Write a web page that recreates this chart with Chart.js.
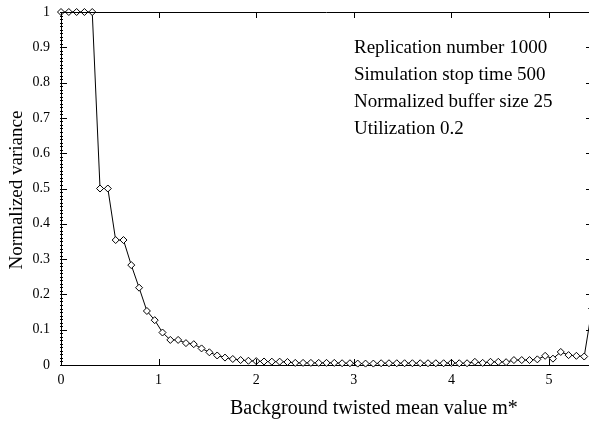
<!DOCTYPE html>
<html>
<head>
<meta charset="utf-8">
<script src="https://cdn.jsdelivr.net/npm/chart.js@4.4.1/dist/chart.umd.min.js"></script>
<style>
  html, body { margin: 0; padding: 0; overflow: hidden; background: #fff; }
  canvas { display: block; }
</style>
</head>
<body>
<canvas id="variance-chart" width="592" height="422"></canvas>
<script>
  // background twisted mean value m*
  const mValues = [
    0, 0.08, 0.16, 0.24, 0.32, 0.4, 0.48, 0.56, 0.64, 0.72,
    0.8, 0.88, 0.96, 1.04, 1.12, 1.2, 1.28, 1.36, 1.44, 1.52,
    1.6, 1.68, 1.76, 1.84, 1.92, 2.0, 2.08, 2.16, 2.24, 2.32,
    2.4, 2.48, 2.56, 2.64, 2.72, 2.8, 2.88, 2.96, 3.04, 3.12,
    3.2, 3.28, 3.36, 3.44, 3.52, 3.6, 3.68, 3.76, 3.84, 3.92,
    4.0, 4.08, 4.16, 4.24, 4.32, 4.4, 4.48, 4.56, 4.64, 4.72,
    4.8, 4.88, 4.96, 5.04, 5.12, 5.2, 5.28, 5.36, 5.44
  ];

  // normalized variance for each m*
  const variance = [
    1, 1, 1, 1, 1, 0.5, 0.5, 0.354, 0.354, 0.283,
    0.219, 0.153, 0.127, 0.092, 0.071, 0.071, 0.062, 0.059, 0.047, 0.036,
    0.027, 0.021, 0.017, 0.014, 0.012, 0.011, 0.010, 0.0095, 0.0095, 0.0085,
    0.006, 0.006, 0.006, 0.006, 0.006, 0.006, 0.005, 0.005, 0.004, 0.004,
    0.004, 0.005, 0.005, 0.005, 0.005, 0.005, 0.005, 0.005, 0.005, 0.005,
    0.006, 0.005, 0.005, 0.009, 0.006, 0.009, 0.009, 0.008, 0.014, 0.014,
    0.014, 0.016, 0.026, 0.018, 0.037, 0.028, 0.026, 0.024, 0.16
  ];

  const xTicks = [0, 1, 2, 3, 4, 5];
  const noteLines = [
    'Replication number 1000',
    'Simulation stop time 500',
    'Normalized buffer size 25',
    'Utilization 0.2'
  ];
  const xTitle = 'Background twisted mean value m*';
  const yTitle = 'Normalized variance';

  const serif = '"Liberation Serif", "Times New Roman", serif';

  // frame, inward tick marks, notes and axis titles
  const framePlugin = {
    id: 'frame',
    afterDraw(chart) {
      const ctx = chart.ctx;
      const area = chart.chartArea;
      const xs = chart.scales.x;
      const ys = chart.scales.y;
      ctx.save();
      ctx.strokeStyle = '#000';
      ctx.lineWidth = 1;
      ctx.beginPath();
      ctx.moveTo(area.left, area.top + 0.5);
      ctx.lineTo(area.right, area.top + 0.5);
      ctx.moveTo(area.right - 0.5, area.top);
      ctx.lineTo(area.right - 0.5, area.bottom);
      ys.ticks.forEach(t => {
        const py = Math.round(ys.getPixelForValue(t.value)) + 0.5;
        ctx.moveTo(area.left, py);
        ctx.lineTo(area.left + 6, py);
        ctx.moveTo(area.right, py);
        ctx.lineTo(area.right - 6, py);
      });
      xs.ticks.forEach(t => {
        const px = Math.round(xs.getPixelForValue(t.value)) + 0.5;
        ctx.moveTo(px, area.bottom);
        ctx.lineTo(px, area.bottom - 6);
        ctx.moveTo(px, area.top);
        ctx.lineTo(px, area.top + 6);
      });
      // minor ticks along the left axis
      for (let i = 0; i <= 100; i++) {
        const py = Math.round(ys.getPixelForValue(i / 100)) + 0.5;
        ctx.moveTo(area.left - 1, py);
        ctx.lineTo(area.left + 2, py);
      }
      ctx.stroke();

      ctx.fillStyle = '#000';
      ctx.textAlign = 'left';
      ctx.textBaseline = 'alphabetic';
      ctx.font = '19px ' + serif;
      noteLines.forEach((line, i) => ctx.fillText(line, 354, 53 + i * 27));

      ctx.font = '20px ' + serif;
      ctx.fillText(xTitle, 230, 414);

      ctx.translate(17, 190);
      ctx.rotate(-Math.PI / 2);
      ctx.textAlign = 'center';
      ctx.textBaseline = 'middle';
      ctx.font = '19px ' + serif;
      ctx.fillText(yTitle, 0, 0);
      ctx.restore();
    }
  };

  const ctx = document.getElementById('variance-chart').getContext('2d');
  new Chart(ctx, {
    type: 'scatter',
    data: {
      datasets: [{
        data: mValues.map((m, i) => ({ x: m, y: variance[i] })),
        showLine: true,
        borderColor: '#000',
        borderWidth: 1,
        tension: 0,
        pointStyle: 'rectRot',
        pointRadius: 3.5,
        pointBorderWidth: 1,
        pointBackgroundColor: '#fff',
        pointBorderColor: '#000',
        clip: false
      }]
    },
    options: {
      responsive: false,
      animation: false,
      events: [],
      layout: { autoPadding: false, padding: { top: 12, right: 0, left: 0, bottom: 0 } },
      plugins: { legend: { display: false }, tooltip: { enabled: false } },
      scales: {
        x: {
          type: 'linear',
          min: 0,
          max: 5.44,
          afterFit: s => {
            s.height = 57;
            s.paddingLeft = 0;
            s.paddingRight = 0;
          },
          afterBuildTicks: s => { s.ticks = xTicks.map(v => ({ value: v })); },
          grid: { display: false, drawTicks: false },
          border: { display: true, color: '#000', width: 1 },
          ticks: {
            color: '#000',
            padding: 7,
            font: { family: serif, size: 14 },
            callback: v => String(v)
          }
        },
        y: {
          min: 0,
          max: 1,
          afterFit: s => {
            s.width = 61;
            s.paddingTop = 0;
            s.paddingBottom = 0;
          },
          grid: { display: false, drawTicks: false },
          border: { display: true, color: '#000', width: 1 },
          ticks: {
            stepSize: 0.1,
            color: '#000',
            padding: 11,
            font: { family: serif, size: 14 },
            callback: v => String(Math.round(v * 10) / 10)
          }
        }
      }
    },
    plugins: [framePlugin]
  });
</script>
</body>
</html>
